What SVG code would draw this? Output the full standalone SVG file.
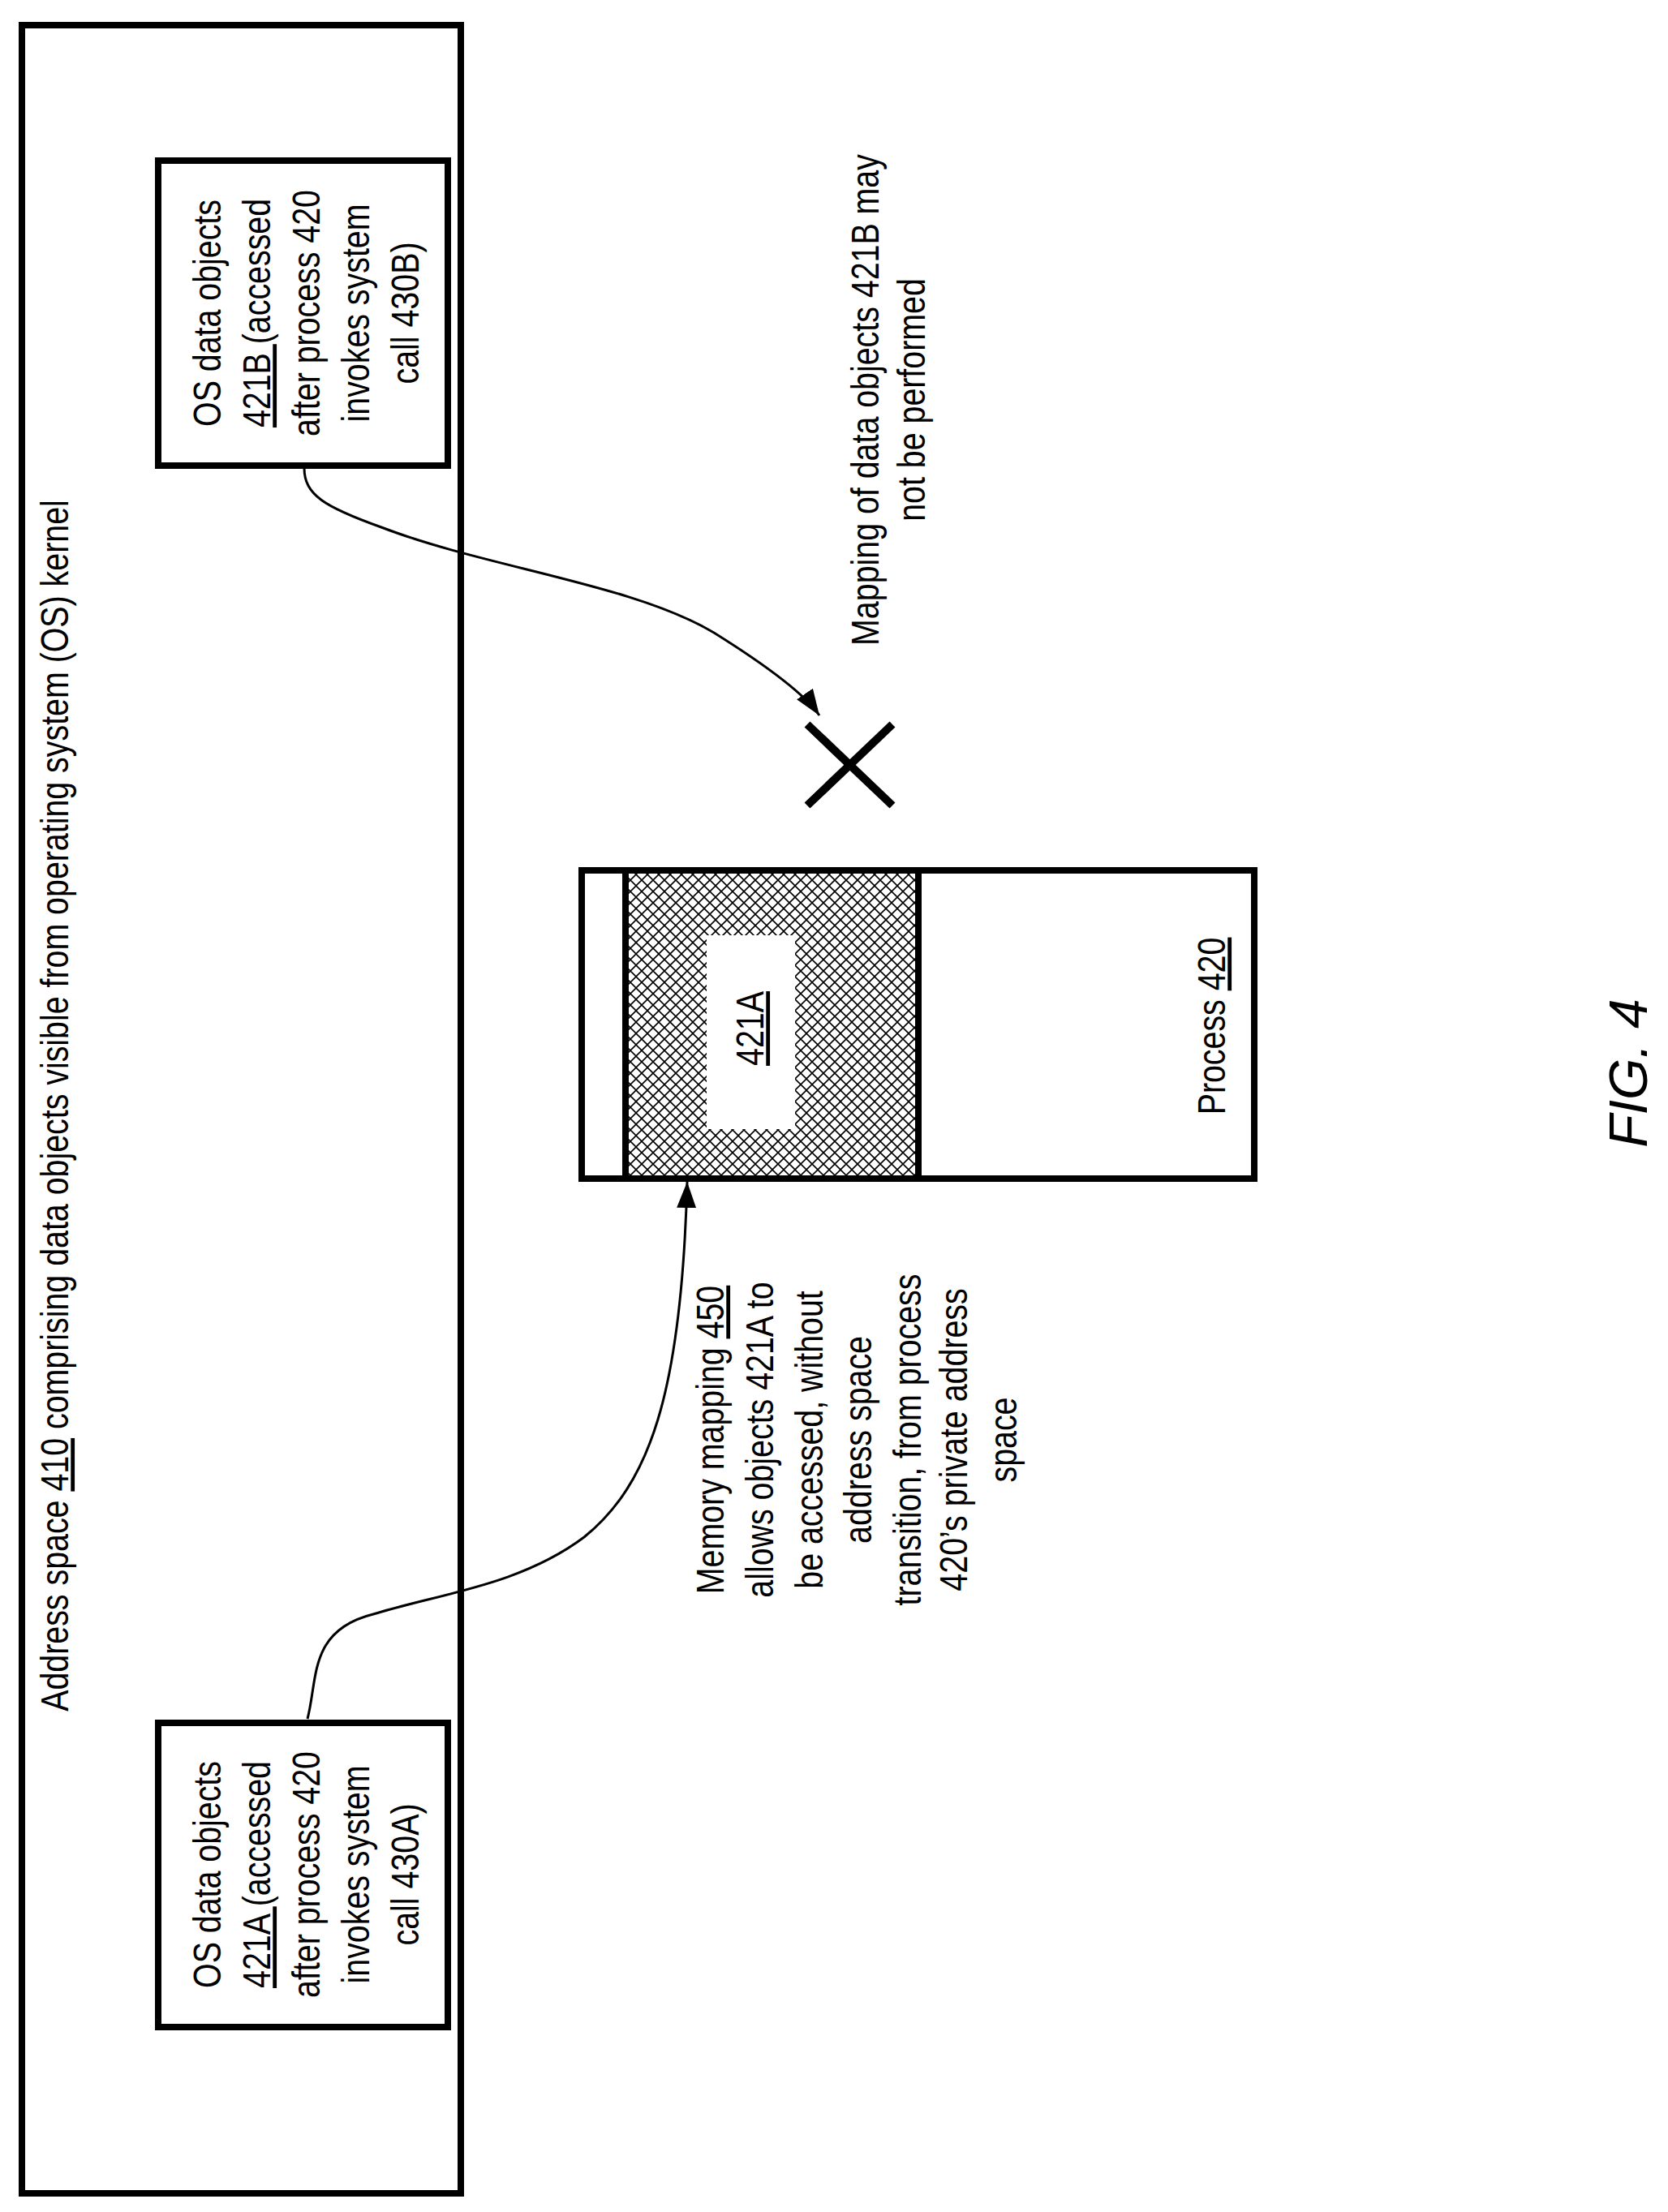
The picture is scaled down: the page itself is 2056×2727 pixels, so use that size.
<svg xmlns="http://www.w3.org/2000/svg" width="2056" height="2727" viewBox="0 0 2056 2727">
<style>
.t{font-family:"Liberation Sans",Arial,sans-serif;font-size:48px;fill:#000;text-anchor:middle}
.box{fill:#fff;stroke:#000;stroke-width:8}
.ln{fill:none;stroke:#000;stroke-width:3}
</style>
<defs>
<pattern id="hatch" width="14" height="14" patternUnits="userSpaceOnUse">
<rect width="14" height="14" fill="#fff"/>
<path d="M0,0L14,14M14,0L0,14" stroke="#000" stroke-width="1.6"/>
</pattern>
<marker id="arr" markerWidth="32" markerHeight="24" refX="32" refY="12" orient="auto" markerUnits="userSpaceOnUse">
<path d="M0,0L32,12L0,24Z" fill="#000"/>
</marker>
</defs>
<rect width="2056" height="2727" fill="#fff"/>
<g id="address-space">
<rect class="box" x="27" y="31" width="541" height="2673"/>
<text class="t" transform="translate(84,1363) rotate(-90) scale(0.82,1)">Address space <tspan text-decoration="underline">410</tspan> comprising data objects visible from operating system (OS) kernel</text>
</g>
<g id="os-objects-421B">
<rect class="box" x="195" y="198" width="357" height="376"/>
<g transform="translate(0,386)">
<text class="t" transform="translate(272,0) rotate(-90) scale(0.82,1)">OS data objects</text>
<text class="t" transform="translate(333,0) rotate(-90) scale(0.82,1)"><tspan text-decoration="underline">421B </tspan>(accessed</text>
<text class="t" transform="translate(394,0) rotate(-90) scale(0.82,1)">after process 420</text>
<text class="t" transform="translate(455,0) rotate(-90) scale(0.82,1)">invokes system</text>
<text class="t" transform="translate(516,0) rotate(-90) scale(0.82,1)">call 430B)</text>
</g>
</g>
<g id="os-objects-421A">
<rect class="box" x="195" y="2124" width="357" height="375"/>
<g transform="translate(0,2311)">
<text class="t" transform="translate(272,0) rotate(-90) scale(0.82,1)">OS data objects</text>
<text class="t" transform="translate(333,0) rotate(-90) scale(0.82,1)"><tspan text-decoration="underline">421A </tspan>(accessed</text>
<text class="t" transform="translate(394,0) rotate(-90) scale(0.82,1)">after process 420</text>
<text class="t" transform="translate(455,0) rotate(-90) scale(0.82,1)">invokes system</text>
<text class="t" transform="translate(516,0) rotate(-90) scale(0.82,1)">call 430A)</text>
</g>
</g>
<g id="process-420">
<rect class="box" x="717" y="1073" width="829" height="380"/>
<rect x="771" y="1073" width="361" height="380" fill="url(#hatch)" stroke="#000" stroke-width="8"/>
<rect x="871" y="1153" width="109" height="239" fill="#fff"/>
<text class="t" transform="translate(941,1268) rotate(-90) scale(0.82,1)" text-decoration="underline">421A</text>
<text class="t" transform="translate(1510,1265) rotate(-90) scale(0.82,1)">Process <tspan text-decoration="underline">420</tspan></text>
</g>
<g id="note-450">
<g transform="translate(0,1775)">
<text class="t" transform="translate(892,0) rotate(-90) scale(0.82,1)">Memory mapping <tspan text-decoration="underline">450</tspan></text>
<text class="t" transform="translate(953,0) rotate(-90) scale(0.82,1)">allows objects 421A to</text>
<text class="t" transform="translate(1014,0) rotate(-90) scale(0.82,1)">be accessed, without</text>
<text class="t" transform="translate(1074,0) rotate(-90) scale(0.82,1)">address space</text>
<text class="t" transform="translate(1135,0) rotate(-90) scale(0.82,1)">transition, from process</text>
<text class="t" transform="translate(1192,0) rotate(-90) scale(0.82,1)">420’s private address</text>
<text class="t" transform="translate(1253,0) rotate(-90) scale(0.82,1)">space</text>
</g>
</g>
<g id="note-421B">
<text class="t" transform="translate(1083,493) rotate(-90) scale(0.82,1)">Mapping of data objects 421B may</text>
<text class="t" transform="translate(1140,493) rotate(-90) scale(0.82,1)">not be performed</text>
</g>
<g id="x-mark">
<path d="M995,893L1100,993M1100,893L995,993" stroke="#000" stroke-width="10" fill="none"/>
</g>
<g id="connectors">
<path class="ln" marker-end="url(#arr)" d="M379,2119 C392,2070 380,2010 460,1990 C540,1965 640,1955 720,1895 C800,1830 840,1720 847,1457"/>
<path class="ln" marker-end="url(#arr)" d="M375,577 C375,610 400,625 470,650 C600,700 780,720 880,780 C960,830 995,860 1010,882"/>
</g>
<text transform="translate(2030,1323) rotate(-90)" style="font-family:'Liberation Sans',Arial,sans-serif;font-size:66px;font-style:italic;text-anchor:middle">FIG. 4</text>
</svg>
